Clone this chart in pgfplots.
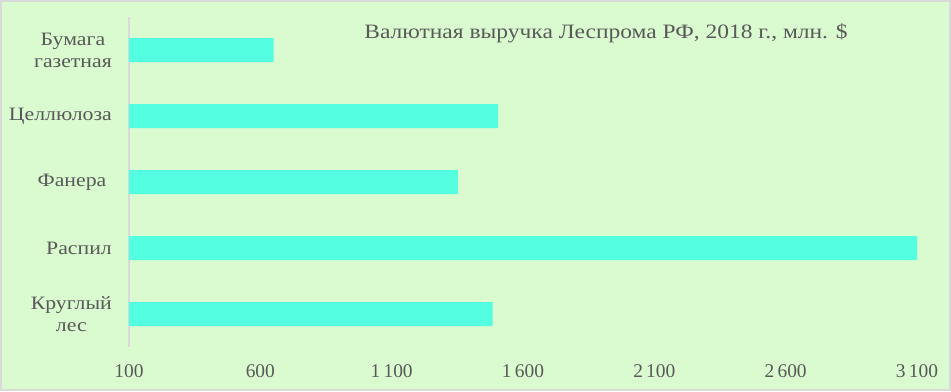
\documentclass[border=0pt]{standalone}
\usepackage{pgfplots}
\pgfplotsset{compat=1.18}
\usepackage{fontspec}
\setmainfont{Liberation Serif}
\newfontfamily\wide{Liberation Serif}[FakeStretch=1.15]
\definecolor{bg}{HTML}{DAFBD0}
\definecolor{frame}{HTML}{D9D9D9}
\definecolor{barc}{HTML}{54FFE1}
\definecolor{txt}{HTML}{595959}
\begin{document}
\begin{tikzpicture}[x=1bp,y=1bp]
\fill[bg] (-128,-43) rectangle (821,346);
\draw[frame,line width=2bp] (-128,-43) rectangle (821,346);
\begin{axis}[
  at={(0,0)}, anchor=south west,
  scale only axis, width=788bp, height=330bp,
  xmin=100, xmax=3100, ymin=-0.5, ymax=4.5,
  xbar, bar width=24bp,
  axis x line=none,
  axis y line*=left,
  y axis line style={frame, line width=1.5bp, -},
  ytick={0,1,2,3,4},
  yticklabels={{Круглый\\лес},Распил,{Фанера\ },Целлюлоза,{Бумага\\газетная}},
  yticklabel style={align=center, font=\wide\fontsize{19}{22}\selectfont, text=txt, inner sep=0pt, anchor=east, xshift=-17bp},
  major tick length=0pt,
  clip=false,
  /pgf/number format/assume math mode=true,
]
\addplot[fill=barc, draw=none, bar shift=0pt] coordinates {(1484,0) (3100,1) (1352,2) (1505,3) (651,4)};
\foreach \v/\l in {100/100,600/600,1100/1\,100,1600/1\,600,2100/2\,100,2600/2\,600,3100/3\,100}{
  \edef\tmp{\noexpand\node[text=txt, font=\noexpand\fontsize{19.5}{22}\noexpand\selectfont] at (axis cs:\v,-0.5) [yshift=-24bp] {\l};}
  \tmp
}
\node[text=txt, font=\wide\fontsize{20.5}{24}\selectfont] at (477bp,314bp) {Валютная выручка Леспрома РФ, 2018 г., млн. \$};
\end{axis}
\end{tikzpicture}
\end{document}
